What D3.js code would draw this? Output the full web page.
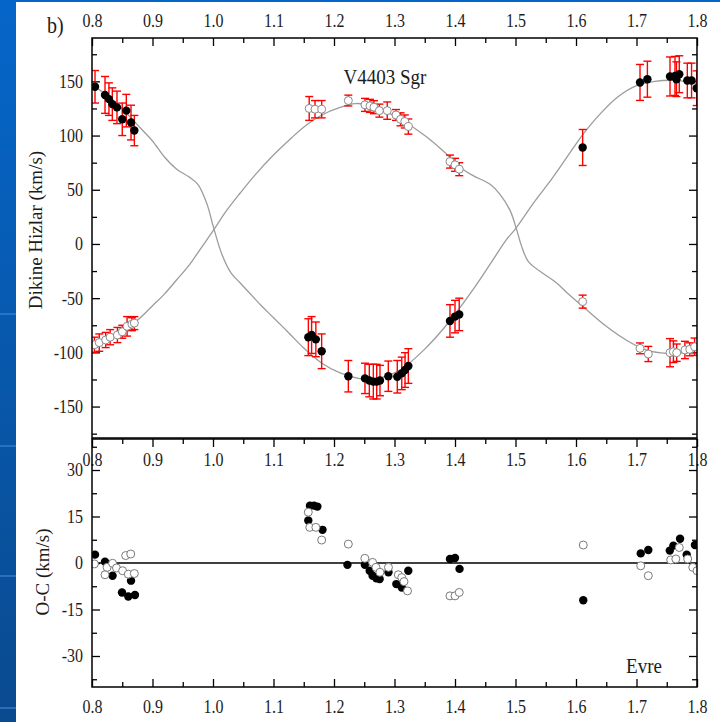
<!DOCTYPE html>
<html>
<head>
<meta charset="utf-8">
<script src="https://cdn.jsdelivr.net/npm/d3@7"></script>
<style>
  html, body { margin: 0; padding: 0; background: #0a55a8; }
  svg { display: block; }
  text { transform-box: fill-box; transform-origin: center; transform: scaleY(1.15); }
</style>
</head>
<body>
<div id="chart"></div>
<script>
let width = 720;
let height = 722;

// Axis ticks
const phaseTicks = [0.8, 0.9, 1.0, 1.1, 1.2, 1.3, 1.4, 1.5, 1.6, 1.7, 1.8];
const phaseMinor = [0.85, 0.95, 1.05, 1.15, 1.25, 1.35, 1.45, 1.55, 1.65, 1.75];
const rvTicks = [-150, -100, -50, 0, 50, 100, 150];
const rvMinor = [-175, -125, -75, -25, 25, 75, 125, 175];
const ocTicks = [-30, -15, 0, 15, 30];
const ocMinor = [-37.5, -22.5, -7.5, 7.5, 22.5, 37.5];

// Primary (filled) radial velocities
const priPhase = [0.805, 0.8215, 0.828, 0.8336, 0.8413, 0.850, 0.8567, 0.8645, 0.870,
  1.1576, 1.163, 1.170, 1.1796, 1.2237, 1.2512, 1.2584, 1.265, 1.2706, 1.276, 1.2898,
  1.3046, 1.312, 1.3174, 1.3229, 1.3917, 1.400, 1.407, 1.611, 1.7058, 1.718,
  1.7554, 1.7636, 1.766, 1.7707, 1.784, 1.791, 1.7995];
const priVel = [145, 137.5, 133.6, 129, 126, 115, 123, 112, 104.6,
  -86, -84, -88, -99, -122, -124, -126, -127, -127, -126, -122,
  -122.5, -119.4, -116.3, -112.6, -71, -67, -65, 89, 149, 152,
  154.5, 155, 152, 156.6, 150.8, 150.8, 143.7];
const priErr = [15, 17, 15, 15, 15, 15, 15, 16, 14,
  17, 17, 16, 16, 14.5, 14, 15, 16, 16, 14, 14,
  15, 15, 16, 16, 15, 15, 15, 16.6, 16.6, 16.6,
  18, 18, 16, 17, 16, 16, 16];

// Secondary (open) radial velocities
const secPhase = [0.804, 0.812, 0.8226, 0.830, 0.842, 0.850, 0.858, 0.866, 0.870,
  1.159, 1.1686, 1.1796, 1.2237, 1.2512, 1.2595, 1.266, 1.275, 1.288, 1.3025,
  1.310, 1.317, 1.3229, 1.3917, 1.400, 1.407, 1.611, 1.7058, 1.7195,
  1.7554, 1.761, 1.7664, 1.780, 1.788, 1.796];
const secVel = [-93, -91, -88.6, -86, -84, -81, -76, -74, -73,
  125, 124.3, 124.3, 132.3, 128.3, 127.4, 126.2, 123, 123, 119,
  115, 113, 108.3, 76, 73, 69, -53.2, -96.3, -101.5,
  -100.3, -99.4, -100.3, -97.8, -97.2, -94.8];
const secErr = [7, 8, 7, 7, 7, 6, 9, 6, 6,
  11, 8, 8, 5, 6, 6, 6, 6, 8, 5,
  6, 6, 7, 6, 6, 6, 6, 5, 7,
  13, 10, 8, 8, 6, 8];

// Model curves
const priModelPhase = [0.80, 0.82, 0.84, 0.86, 0.88, 0.90, 0.92, 0.94, 0.96, 0.975, 0.99, 1.00,
  1.015, 1.03, 1.045, 1.06, 1.08, 1.10, 1.127, 1.15, 1.18, 1.21, 1.24, 1.265, 1.29, 1.31,
  1.35, 1.39, 1.43, 1.46, 1.485, 1.50, 1.53, 1.56, 1.585, 1.61, 1.64, 1.67, 1.70, 1.73,
  1.76, 1.78, 1.80];
const priModelVel = [147, 139, 130, 119, 107, 95, 80, 69, 62, 55, 37, 17,
  -10, -27, -36, -45, -57, -68, -83, -96, -110, -119, -124, -125, -121, -116,
  -97, -72, -42, -17, 4, 14, 38, 60, 80, 100, 120, 136, 146, 150,
  151, 150, 148];
const secModelPhase = [0.80, 0.82, 0.84, 0.86, 0.88, 0.90, 0.92, 0.94, 0.96, 0.98, 1.00,
  1.02, 1.045, 1.07, 1.10, 1.13, 1.155, 1.18, 1.21, 1.235, 1.26, 1.29, 1.31, 1.35, 1.38,
  1.41, 1.43, 1.458, 1.474, 1.491, 1.502, 1.51, 1.521, 1.54, 1.568, 1.585, 1.612, 1.65,
  1.684, 1.717, 1.75, 1.78, 1.80];
const secModelVel = [-94, -89, -84, -77, -68, -57, -46, -33, -20, -4, 12,
  29, 47, 64, 82, 98, 110, 119, 126, 129.5, 128, 121, 115, 100, 86,
  70, 63, 55, 46, 31, 13, -2, -16, -25, -36, -45, -58, -76,
  -89, -98, -101, -100, -97];

// O-C residuals
const ocPriPhase = [0.805, 0.8215, 0.834, 0.8496, 0.860, 0.8645, 0.871,
  1.1575, 1.1603, 1.167, 1.1725, 1.181, 1.2222, 1.251, 1.259, 1.2638, 1.270, 1.2755,
  1.290, 1.303, 1.312, 1.3228, 1.3917, 1.400, 1.4075, 1.612, 1.707, 1.7195,
  1.755, 1.761, 1.772, 1.783, 1.7966];
const ocPriVal = [2.7, 0.4, -4.1, -9.5, -10.8, -5.7, -10.3,
  13.7, 18.5, 18.5, 18.2, 10.7, -0.6, -0.6, -2.5, -4.1, -4.9, -5.2,
  -3.0, -6.8, -7.9, -2.5, 1.3, 1.6, -1.9, -12, 3.1, 4.2,
  4.0, 5.6, 7.8, 2.7, 5.8];
const ocSecPhase = [0.804, 0.8215, 0.825, 0.834, 0.8405, 0.8506, 0.8557, 0.860, 0.864, 0.870,
  1.1575, 1.160, 1.170, 1.1796, 1.2237, 1.251, 1.2638, 1.2694, 1.276, 1.290,
  1.3063, 1.312, 1.3157, 1.3215, 1.3917, 1.400, 1.407, 1.612, 1.707, 1.7195,
  1.7565, 1.765, 1.7707, 1.7846, 1.793, 1.800];
const ocSecVal = [-0.3, -3.8, -1.4, -0.1, -1.6, -2.5, 2.4, -3.6, 2.9, -3.4,
  16.4, 11.5, 11.5, 7.4, 6.1, 1.5, 0.2, -1.4, -3.0, -1.4,
  -3.8, -4.7, -6.0, -9.0, -10.6, -10.6, -9.5, 5.8, -0.9, -4.1,
  1.0, 1.3, 5.0, 1.3, -1.4, -2.5];

const font = "'Liberation Serif', 'Times New Roman', serif";
const textColor = "#1c1c1c";

const svg = d3.select("#chart")
  .append("svg")
  .attr("width", width)
  .attr("height", height);

// Slide background
const defs = svg.append("defs");
const grad = defs.append("linearGradient")
  .attr("id", "bg").attr("x1", 0).attr("y1", 0).attr("x2", 0).attr("y2", 1);
grad.append("stop").attr("offset", "0%").attr("stop-color", "#0566c9");
grad.append("stop").attr("offset", "100%").attr("stop-color", "#0a4a8f");
svg.append("rect").attr("width", width).attr("height", height).attr("fill", "url(#bg)");
[313, 445, 575, 707].forEach(yy => {
  svg.append("rect").attr("x", 0).attr("y", yy).attr("width", 16).attr("height", 2)
    .attr("fill", "#3a86d6").attr("opacity", 0.6);
});
svg.append("rect").attr("x", 16).attr("y", 2).attr("width", width - 16).attr("height", height - 2)
  .attr("fill", "#ffffff");

// Scales
const x = d3.scaleLinear().domain([0.8, 1.8]).range([92, 697]);
const yTop = d3.scaleLinear().domain([-179, 190]).range([438, 38]);
const yBot = d3.scaleLinear().domain([-40, 40]).range([687, 439]);

defs.append("clipPath").attr("id", "clipTop")
  .append("rect").attr("x", 92).attr("y", 38).attr("width", 605).attr("height", 400);
defs.append("clipPath").attr("id", "clipBot")
  .append("rect").attr("x", 92).attr("y", 439).attr("width", 605).attr("height", 248);

// Helper for drawing an axis with inward ticks
function drawAxis(axis, tx, ty) {
  const g = svg.append("g")
    .attr("transform", `translate(${tx},${ty})`)
    .call(axis);
  g.select(".domain").remove();
  g.selectAll("line").attr("stroke", "#000").attr("stroke-width", 1.3);
  g.selectAll("text")
    .attr("font-family", font)
    .attr("font-size", 16)
    .attr("fill", textColor);
  return g;
}

const fmtPhase = d3.format(".1f");

// Top panel axes
drawAxis(d3.axisTop(x).tickValues(phaseTicks).tickSize(-8).tickPadding(12).tickFormat(fmtPhase), 0, 38);
drawAxis(d3.axisTop(x).tickValues(phaseMinor).tickSize(-5).tickFormat(""), 0, 38);
drawAxis(d3.axisLeft(yTop).tickValues(rvTicks).tickSize(-8).tickPadding(9).tickFormat(d => String(d)), 92, 0);
drawAxis(d3.axisLeft(yTop).tickValues(rvMinor).tickSize(-5).tickFormat(""), 92, 0);
drawAxis(d3.axisRight(yTop).tickValues(rvTicks).tickSize(-8).tickFormat(""), 697, 0);
drawAxis(d3.axisRight(yTop).tickValues(rvMinor).tickSize(-5).tickFormat(""), 697, 0);

// Bottom panel axes
drawAxis(d3.axisBottom(x).tickValues(phaseTicks).tickSize(8).tickPadding(7).tickFormat(fmtPhase), 0, 439);
drawAxis(d3.axisBottom(x).tickValues(phaseMinor).tickSize(5).tickFormat(""), 0, 439);
drawAxis(d3.axisBottom(x).tickValues(phaseTicks).tickSize(-8).tickPadding(14).tickFormat(fmtPhase), 0, 687);
drawAxis(d3.axisBottom(x).tickValues(phaseMinor).tickSize(-5).tickFormat(""), 0, 687);
drawAxis(d3.axisLeft(yBot).tickValues(ocTicks).tickSize(-8).tickPadding(9).tickFormat(d => String(d)), 92, 0);
drawAxis(d3.axisLeft(yBot).tickValues(ocMinor).tickSize(-5).tickFormat(""), 92, 0);
drawAxis(d3.axisRight(yBot).tickValues(ocTicks).tickSize(-8).tickFormat(""), 697, 0);
drawAxis(d3.axisRight(yBot).tickValues(ocMinor).tickSize(-5).tickFormat(""), 697, 0);

// Top panel: model curves
const topG = svg.append("g").attr("clip-path", "url(#clipTop)");
const curveLine = (xs, ys) => d3.line()
  .x((d, i) => x(xs[i]))
  .y((d, i) => yTop(ys[i]))
  .curve(d3.curveCatmullRom.alpha(0.5))(xs);

topG.append("path")
  .attr("d", curveLine(priModelPhase, priModelVel))
  .attr("fill", "none").attr("stroke", "#9c9c9c").attr("stroke-width", 1.3);
topG.append("path")
  .attr("d", curveLine(secModelPhase, secModelVel))
  .attr("fill", "none").attr("stroke", "#9c9c9c").attr("stroke-width", 1.3);

// Error bars
function errorBars(g, xs, ys, es) {
  const cap = 4;
  xs.forEach((p, i) => {
    const cx = x(p), y1 = yTop(ys[i] + es[i]), y2 = yTop(ys[i] - es[i]);
    g.append("line").attr("x1", cx).attr("x2", cx).attr("y1", y1).attr("y2", y2);
    g.append("line").attr("x1", cx - cap).attr("x2", cx + cap).attr("y1", y1).attr("y2", y1);
    g.append("line").attr("x1", cx - cap).attr("x2", cx + cap).attr("y1", y2).attr("y2", y2);
  });
}
const bars = topG.append("g").attr("stroke", "#ff0000").attr("stroke-width", 1.4);
errorBars(bars, secPhase, secVel, secErr);
errorBars(bars, priPhase, priVel, priErr);

topG.selectAll("circle.sec")
  .data(secPhase)
  .enter()
  .append("circle")
  .attr("class", "sec")
  .attr("cx", d => x(d))
  .attr("cy", (d, i) => yTop(secVel[i]))
  .attr("r", 4)
  .attr("fill", "#fff")
  .attr("stroke", "#8a8a8a")
  .attr("stroke-width", 1);

topG.selectAll("circle.pri")
  .data(priPhase)
  .enter()
  .append("circle")
  .attr("class", "pri")
  .attr("cx", d => x(d))
  .attr("cy", (d, i) => yTop(priVel[i]))
  .attr("r", 4.2)
  .attr("fill", "#000");

// Bottom panel: O-C
const botG = svg.append("g").attr("clip-path", "url(#clipBot)");
botG.append("line")
  .attr("x1", 92).attr("x2", 697)
  .attr("y1", yBot(0)).attr("y2", yBot(0))
  .attr("stroke", "#000").attr("stroke-width", 1.3);

botG.selectAll("circle.ocpri")
  .data(ocPriPhase)
  .enter()
  .append("circle")
  .attr("class", "ocpri")
  .attr("cx", d => x(d))
  .attr("cy", (d, i) => yBot(ocPriVal[i]))
  .attr("r", 4.2)
  .attr("fill", "#000");

botG.selectAll("circle.ocsec")
  .data(ocSecPhase)
  .enter()
  .append("circle")
  .attr("class", "ocsec")
  .attr("cx", d => x(d))
  .attr("cy", (d, i) => yBot(ocSecVal[i]))
  .attr("r", 4)
  .attr("fill", "#fff")
  .attr("stroke", "#7a7a7a")
  .attr("stroke-width", 1);

// Frames
svg.append("rect").attr("x", 92).attr("y", 38).attr("width", 605).attr("height", 400)
  .attr("fill", "none").attr("stroke", "#000").attr("stroke-width", 1.5);
svg.append("rect").attr("x", 92).attr("y", 439).attr("width", 605).attr("height", 248)
  .attr("fill", "none").attr("stroke", "#000").attr("stroke-width", 1.5);

// Texts
svg.append("text")
  .attr("x", 47).attr("y", 32)
  .attr("font-family", font).attr("font-size", 20).attr("fill", textColor)
  .text("b)");

svg.append("text")
  .attr("x", 385).attr("y", 83)
  .attr("text-anchor", "middle")
  .attr("font-family", font).attr("font-size", 19).attr("fill", textColor)
  .text("V4403 Sgr");

svg.append("text")
  .attr("x", 644).attr("y", 672)
  .attr("text-anchor", "middle")
  .attr("font-family", font).attr("font-size", 19).attr("fill", textColor)
  .text("Evre");

svg.append("text")
  .attr("transform", "translate(42,230) rotate(-90)")
  .style("transform", "translate(42px,230px) rotate(-90deg)")
  .style("transform-box", "view-box")
  .style("transform-origin", "0 0")
  .attr("text-anchor", "middle")
  .attr("font-family", font).attr("font-size", 19).attr("fill", textColor)
  .text("Dikine Hizlar (km/s)");

svg.append("text")
  .attr("transform", "translate(49,572) rotate(-90)")
  .style("transform", "translate(49px,572px) rotate(-90deg)")
  .style("transform-box", "view-box")
  .style("transform-origin", "0 0")
  .attr("text-anchor", "middle")
  .attr("font-family", font).attr("font-size", 19).attr("fill", textColor)
  .text("O-C (km/s)");
</script>
</body>
</html>
